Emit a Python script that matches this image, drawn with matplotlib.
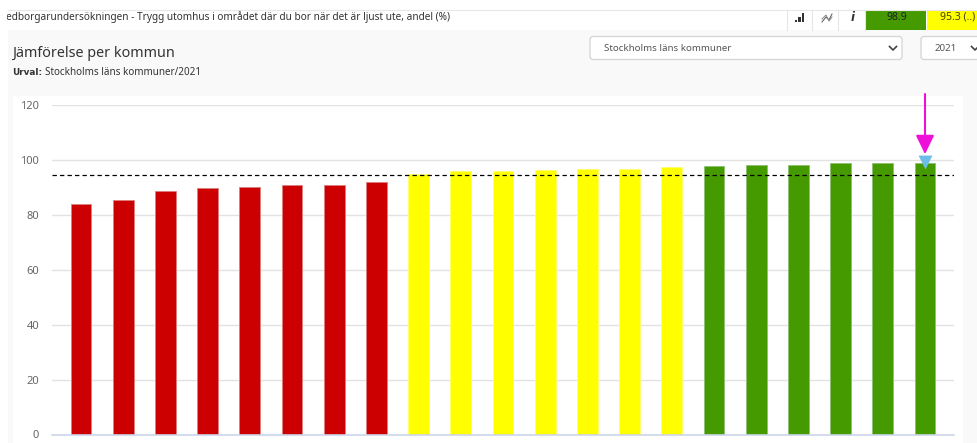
import matplotlib
matplotlib.use("Agg")
import matplotlib.pyplot as plt
from matplotlib.patches import Rectangle, FancyBboxPatch

plt.rcParams["font.family"] = ["Noto Sans", "DejaVu Sans"]

W, H = 978, 443

values = [84.0, 85.3, 88.5, 89.7, 90.0, 90.7, 91.0, 92.0, 95.0, 96.0, 96.0,
          96.5, 96.7, 96.7, 97.3, 97.8, 98.2, 98.2, 98.9, 98.9, 98.9]
bar_colors = ["#cc0000"] * 8 + ["#ffff00"] * 7 + ["#459a00"] * 6
edge_colors = ["#dc8080"] * 8 + ["#ffff70"] * 7 + ["#8cc070"] * 6
yticks = [0, 20, 40, 60, 80, 100, 120]
snitt = 94.5
heading = "Medborgarundersökningen - Trygg utomhus i området där du bor när det är ljust ute, andel (%)"
title = "Jämförelse per kommun"
urval = "Stockholms läns kommuner/2021"
dropdown = "Stockholms läns kommuner"
year = "2021"
top_green = "98.9"
top_yellow = "95.3 (..)"

fig = plt.figure(figsize=(W / 100, H / 100), dpi=100, facecolor="white")

# page behind the chart, in pixels
bg = fig.add_axes([0, 0, 1, 1], zorder=0)
bg.set_xlim(0, W)
bg.set_ylim(H, 0)
bg.axis("off")
bg.add_patch(Rectangle((8, 30), W - 8, H - 30, fc="#f9f9f9", ec="none"))
bg.add_patch(Rectangle((12.5, 96), 950.5, H - 96, fc="white", ec="none"))
bg.plot([8, W], [9.5, 9.5], color="#e8e8e8", lw=0.8)

# header strip, the first letter is cut by the page edge like in the screenshot
t = bg.text(-3, 17, heading, fontsize=7.25, color="#333333", va="center", ha="left", clip_on=True)
t.set_clip_path(Rectangle((7, 0), W, 40, transform=bg.transData))
for x in [787, 812, 838, 865]:
    bg.plot([x, x], [10, 30], color="#e6e6e6", lw=0.8)
bg.add_patch(Rectangle((866, 10), 60, 20, fc="#459a00", ec="none"))
bg.add_patch(Rectangle((927, 10), 51, 20, fc="#ffff00", ec="none"))
bg.text(897, 17, top_green, fontsize=7.6, color="#222222", ha="center", va="center")
bg.text(958, 17, top_yellow, fontsize=7.6, color="#444400", ha="center", va="center")

# small icons
for x, y0 in [(796, 20), (799.5, 16.5), (803, 13)]:
    bg.add_patch(Rectangle((x - 1.4, y0), 2.8, 22 - y0, fc="#333333", ec="none"))
bg.plot([822, 826, 829, 832], [22, 17, 20, 14], color="#555555", lw=0.7)
bg.plot([822, 826, 829, 832], [19, 15, 21, 17], color="#888888", lw=0.7)
bg.text(852.5, 17.5, "i", fontsize=8.5, fontweight="bold", style="italic", color="#333333",
        family="DejaVu Sans", ha="center", va="center")

# title block
bg.text(12.5, 53, title, fontsize=10.3, color="#333333", va="center")
bg.text(12.5, 72, "Urval:", fontsize=6.4, fontweight="bold", color="#333333", va="center",
        family="DejaVu Sans")
bg.text(45, 72, urval, fontsize=7.1, color="#333333", va="center")

# dropdowns
for x0, x1, label, tx, cx in [(590, 902, dropdown, 604, 893), (921, 985, year, 935, 975)]:
    bg.add_patch(FancyBboxPatch((x0, 36.5), x1 - x0, 23, boxstyle="round,pad=0,rounding_size=3",
                                fc="white", ec="#d4d4d4", lw=0.9))
    bg.text(tx, 48, label, fontsize=7.0, color="#555555", va="center")
    bg.plot([cx - 3.5, cx, cx + 3.5], [46.5, 50, 46.5], color="#444444", lw=1.2)

# chart, placed so the gridlines cover px 52-954 and 0-120 covers px 434.5-105
ax = fig.add_axes([52 / W, (H - 434.5) / H, (954 - 52) / W, (434.5 - 105) / H], zorder=1)
ax.patch.set_alpha(0)
positions = list(range(len(values)))
ax.bar(positions, values, width=0.49, color=bar_colors, edgecolor=edge_colors, linewidth=0.6, zorder=2)
ax.axhline(snitt, color="black", lw=0.9, dashes=(3.5, 2.5), zorder=3)
ax.set_xlim(-0.687, 20.687)
ax.set_ylim(0, 120)
ax.set_yticks(yticks)
ax.set_xticks([])
ax.yaxis.grid(True, color="#e2e2e2", lw=1, zorder=0)
ax.tick_params(axis="y", length=0, pad=9.4, labelsize=8, labelcolor="#666666")
for side in ["top", "left", "right"]:
    ax.spines[side].set_visible(False)
ax.spines["bottom"].set_color("#ccd6eb")
ax.spines["bottom"].set_linewidth(1.2)

# marker on the selected kommun
ax.scatter([positions[-1]], [99.4], marker="v", s=100, color="#6cbde8", linewidths=0, zorder=4)
ax.annotate("", xy=(positions[-1], 102.1), xytext=(positions[-1], 124), annotation_clip=False, zorder=5,
            arrowprops=dict(arrowstyle="-|>,head_width=0.56,head_length=1.15", color="#ee10d8",
                            lw=1.5, shrinkA=0, shrinkB=0))

fig.savefig("out.png", dpi=100, facecolor="white")
